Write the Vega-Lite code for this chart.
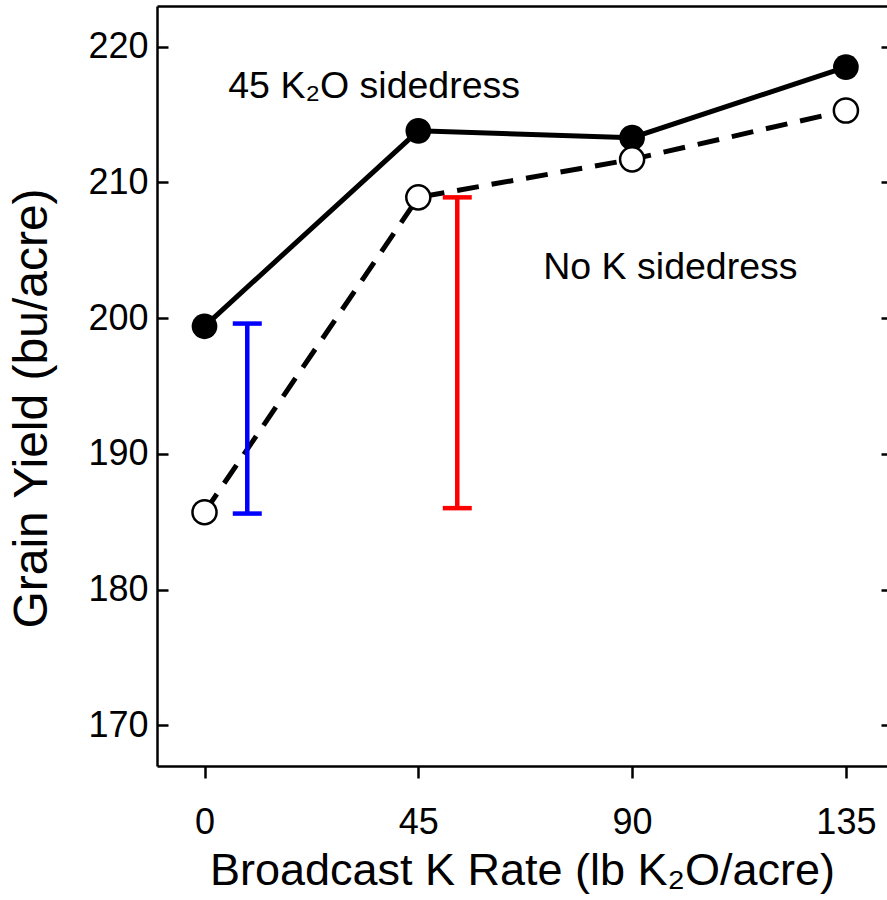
{
  "$schema": "https://vega.github.io/schema/vega-lite/v6.json",
  "width": 730,
  "height": 760,
  "autosize": {"type": "none"},
  "padding": {"left": 157, "top": 6, "right": 0, "bottom": 134},
  "background": "white",
  "config": {
    "view": {"stroke": null},
    "font": "Liberation Sans",
    "axis": {
      "grid": false,
      "domainColor": "black",
      "tickColor": "black",
      "labelColor": "black",
      "titleColor": "black",
      "domainWidth": 2.5,
      "tickWidth": 2.5,
      "labelFont": "Liberation Sans",
      "titleFont": "Liberation Sans",
      "labelFontSize": 36,
      "titleFontWeight": "normal"
    }
  },
  "datasets": {
    "series": [
      {"rate": 0, "yield": 199.4, "trt": "45"},
      {"rate": 45, "yield": 213.8, "trt": "45"},
      {"rate": 90, "yield": 213.3, "trt": "45"},
      {"rate": 135, "yield": 218.5, "trt": "45"},
      {"rate": 0, "yield": 185.7, "trt": "none"},
      {"rate": 45, "yield": 208.9, "trt": "none"},
      {"rate": 90, "yield": 211.7, "trt": "none"},
      {"rate": 135, "yield": 215.3, "trt": "none"}
    ],
    "bars": [
      {"x": 9.0, "lo": 185.6, "hi": 199.6, "grp": "blue"},
      {"x": 53.2, "lo": 186.0, "hi": 208.9, "grp": "red"}
    ],
    "labels": [
      {"x": 5.0, "y": 216.2, "label": "45 K₂O sidedress"},
      {"x": 71.3, "y": 202.9, "label": "No K sidedress"}
    ]
  },
  "layer": [
    {
      "data": {"name": "series"},
      "transform": [{"filter": "datum.trt == 'none'"}],
      "mark": {"type": "line", "strokeDash": [22, 13], "strokeWidth": 5, "color": "black"},
      "encoding": {
        "x": {"field": "rate", "type": "quantitative", "scale": {"domain": [-10, 143.65], "nice": false, "zero": false},
          "axis": {"orient": "top", "ticks": false, "labels": false, "title": null, "domain": true}},
        "y": {"field": "yield", "type": "quantitative", "scale": {"domain": [167, 223], "nice": false, "zero": false},
          "axis": {"orient": "right", "values": [170, 180, 190, 200, 210, 220], "tickSize": -6, "labels": false, "domain": false, "title": null}}
      }
    },
    {
      "data": {"name": "series"},
      "transform": [{"filter": "datum.trt == '45'"}],
      "mark": {"type": "line", "strokeWidth": 5, "color": "black"},
      "encoding": {
        "x": {"field": "rate", "type": "quantitative", "scale": {"domain": [-10, 143.65], "nice": false, "zero": false},
          "axis": {"orient": "bottom", "values": [0, 45, 90, 135], "tickSize": 12, "labelPadding": 27, "title": "Broadcast K Rate (lb K₂O/acre)", "titleFontSize": 45, "titlePadding": 8}},
        "y": {"field": "yield", "type": "quantitative", "scale": {"domain": [167, 223], "nice": false, "zero": false},
          "axis": {"orient": "left", "values": [170, 180, 190, 200, 210, 220], "tickSize": -11, "labelPadding": 20, "title": "Grain Yield (bu/acre)", "titleFontSize": 48, "titlePadding": 31, "titleY": 402}}
      }
    },
    {
      "data": {"name": "bars"},
      "transform": [{"filter": "datum.grp == 'blue'"}],
      "mark": {"type": "errorbar", "ticks": {"size": 29, "thickness": 4.5, "color": "#0000ff", "opacity": 1}, "rule": {"strokeWidth": 4.5, "color": "#0000ff", "opacity": 1}},
      "encoding": {
        "x": {"field": "x", "type": "quantitative", "scale": {"domain": [-10, 143.65], "nice": false, "zero": false}, "axis": null},
        "y": {"field": "lo", "type": "quantitative", "scale": {"domain": [167, 223], "nice": false, "zero": false}, "axis": null},
        "y2": {"field": "hi"}
      }
    },
    {
      "data": {"name": "bars"},
      "transform": [{"filter": "datum.grp == 'red'"}],
      "mark": {"type": "errorbar", "ticks": {"size": 29, "thickness": 4.5, "color": "#ff0000", "opacity": 1}, "rule": {"strokeWidth": 4.5, "color": "#ff0000", "opacity": 1}},
      "encoding": {
        "x": {"field": "x", "type": "quantitative", "scale": {"domain": [-10, 143.65], "nice": false, "zero": false}, "axis": null},
        "y": {"field": "lo", "type": "quantitative", "scale": {"domain": [167, 223], "nice": false, "zero": false}, "axis": null},
        "y2": {"field": "hi"}
      }
    },
    {
      "data": {"name": "series"},
      "transform": [{"filter": "datum.trt == '45'"}],
      "mark": {"type": "point", "shape": "circle", "filled": true, "size": 660, "color": "black", "opacity": 1},
      "encoding": {
        "x": {"field": "rate", "type": "quantitative", "scale": {"domain": [-10, 143.65], "nice": false, "zero": false}, "axis": null},
        "y": {"field": "yield", "type": "quantitative", "scale": {"domain": [167, 223], "nice": false, "zero": false}, "axis": null}
      }
    },
    {
      "data": {"name": "series"},
      "transform": [{"filter": "datum.trt == 'none'"}],
      "mark": {"type": "point", "shape": "circle", "filled": true, "fill": "white", "stroke": "black", "strokeWidth": 2.5, "size": 580, "opacity": 1},
      "encoding": {
        "x": {"field": "rate", "type": "quantitative", "scale": {"domain": [-10, 143.65], "nice": false, "zero": false}, "axis": null},
        "y": {"field": "yield", "type": "quantitative", "scale": {"domain": [167, 223], "nice": false, "zero": false}, "axis": null}
      }
    },
    {
      "data": {"name": "labels"},
      "mark": {"type": "text", "align": "left", "baseline": "alphabetic", "fontSize": 37.5, "font": "Liberation Sans", "color": "black"},
      "encoding": {
        "x": {"field": "x", "type": "quantitative", "scale": {"domain": [-10, 143.65], "nice": false, "zero": false}, "axis": null},
        "y": {"field": "y", "type": "quantitative", "scale": {"domain": [167, 223], "nice": false, "zero": false}, "axis": null},
        "text": {"field": "label", "type": "nominal"}
      }
    }
  ],
  "resolve": {"axis": {"x": "independent", "y": "independent"}}
}
